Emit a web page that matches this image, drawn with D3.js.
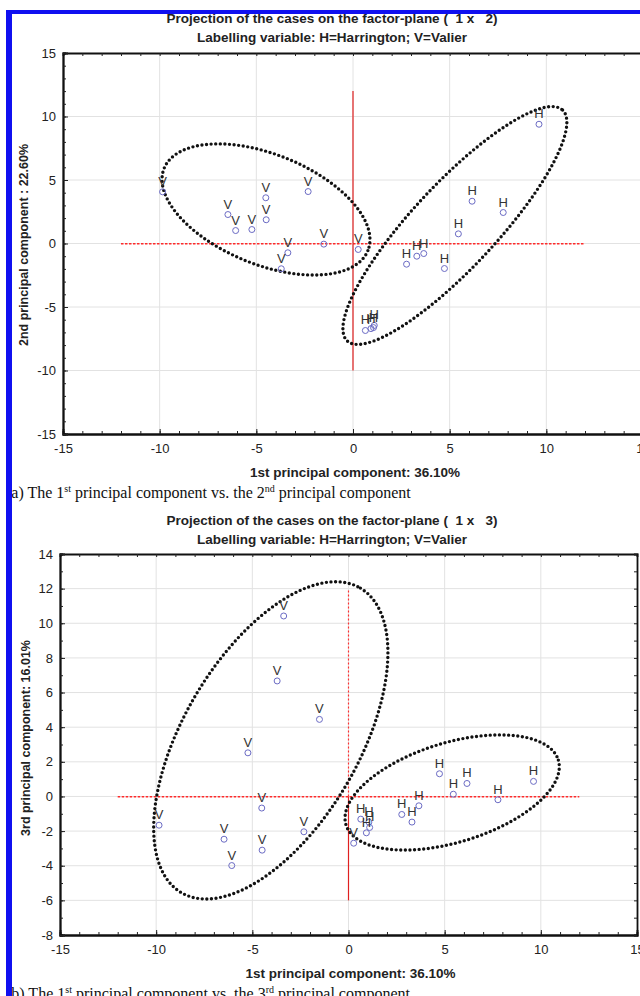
<!DOCTYPE html>
<html lang="en">
<head>
<meta charset="UTF-8">
<script src="https://cdnjs.cloudflare.com/ajax/libs/d3/7.8.5/d3.min.js"></script>
<title>PCA projections</title>
<style>
  body { margin: 0; background: #fff; }
  svg { display: block; }
</style>
</head>
<body>
<script>
// cases: label, 1st / 2nd / 3rd principal component scores
var caseLabels = ["V","V","V","V","V","V","V","V","V","V","V",
                  "H","H","H","H","H","H","H","H","H","H","H","H"];
var pc1 = [-9.85, -6.47, -6.07, -5.23, -4.51, -4.49, -2.32, -3.37, -3.71, -1.51, 0.27,
           9.62, 6.16, 7.77, 5.45, 2.77, 3.30, 3.66, 4.73, 0.64, 1.06, 1.10, 0.93];
var pc2 = [4.07, 2.28, 1.02, 1.10, 3.60, 1.87, 4.09, -0.73, -1.99, -0.05, -0.47,
           9.39, 3.33, 2.44, 0.76, -1.63, -1.00, -0.79, -1.97, -6.85, -6.62, -6.45, -6.70];
var pc3 = [-1.66, -2.47, -3.99, 2.52, -0.67, -3.10, -2.04, 10.42, 6.67, 4.45, -2.70,
           0.87, 0.75, -0.19, 0.13, -1.04, -1.48, -0.54, 1.31, -1.31, -1.48, -1.79, -2.10];

// axis ticks
var xMajor = [-15, -10, -5, 0, 5, 10, 15];
var yMajorA = [-15, -10, -5, 0, 5, 10, 15];
var yMajorB = [-8, -6, -4, -2, 0, 2, 4, 6, 8, 10, 12, 14];

// group ellipses: centre, semi-axis vectors (data units)
var ellA = [{c: [-4.50, 2.68], u: [5.27, -3.24], v: [-1.07, -4.02]},
            {c: [5.27, 1.42], u: [5.57, 9.09], v: [1.59, -2.25]}];
var ellB = [{c: [-4.04, 3.24], u: [4.66, 8.79], v: [3.92, -2.58]},
            {c: [5.39, 0.23], u: [5.52, 1.87], v: [0.75, -2.75]}];

var W = 640, H = 996;
var svg = d3.select("body").append("svg").attr("width", W).attr("height", H)
    .style("font-family", "'Liberation Sans', Arial, sans-serif");

function drawPlot(o) {
    var x = d3.scaleLinear().domain([-15, 15]).range(o.xr);
    var y = d3.scaleLinear().domain(o.yd).range(o.yr);
    var g = svg.append("g");
    var x0 = o.xr[0], x1 = o.xr[1], y0 = o.yr[1], y1 = o.yr[0];

    // grid
    g.selectAll(".gx").data(xMajor.slice(1, -1)).enter().append("line")
        .attr("x1", function (d) { return x(d); }).attr("x2", function (d) { return x(d); })
        .attr("y1", y0).attr("y2", y1).attr("stroke", "#e2e2e2").attr("stroke-width", 1);
    g.selectAll(".gy").data(o.yMajor.slice(1, -1)).enter().append("line")
        .attr("y1", function (d) { return y(d); }).attr("y2", function (d) { return y(d); })
        .attr("x1", x0).attr("x2", x1).attr("stroke", "#e2e2e2").attr("stroke-width", 1);

    // reference lines
    g.append("line").attr("x1", x(-12)).attr("x2", x(12)).attr("y1", y(0) + 0.3).attr("y2", y(0) + 0.3)
        .attr("stroke", "#ff2a2a").attr("stroke-width", 1.4).attr("stroke-dasharray", "2.5 1.5");
    g.append("line").attr("x1", x(0)).attr("x2", x(0)).attr("y1", y(0)).attr("y2", y(o.vLine[0]))
        .attr("stroke", "#e02020").attr("stroke-width", 1.2);
    g.append("line").attr("x1", x(0)).attr("x2", x(0)).attr("y1", y(0)).attr("y2", y(o.vLine[1]))
        .attr("stroke", o.upperDash ? "#ff3030" : "#e02020").attr("stroke-width", 1.2)
        .attr("stroke-dasharray", o.upperDash ? "2 2" : null);

    // axes
    var minorX = d3.range(-15, 16, 1);
    var minorY = d3.range(o.yd[0], o.yd[1] + 1, 1);
    var fmt = function (d) { return String(d); };
    var axes = [
        [d3.axisBottom(x).tickValues(xMajor).tickSize(-5).tickPadding(10).tickFormat(fmt), "translate(0," + y1 + ")"],
        [d3.axisBottom(x).tickValues(minorX).tickSize(-3).tickFormat(""), "translate(0," + y1 + ")"],
        [d3.axisTop(x).tickValues(minorX).tickSize(-3).tickFormat(""), "translate(0," + y0 + ")"],
        [d3.axisLeft(y).tickValues(o.yMajor).tickSize(-5).tickPadding(7).tickFormat(fmt), "translate(" + x0 + ",0)"],
        [d3.axisLeft(y).tickValues(minorY).tickSize(-3).tickFormat(""), "translate(" + x0 + ",0)"],
        [d3.axisRight(y).tickValues(minorY).tickSize(-3).tickFormat(""), "translate(" + x1 + ",0)"]
    ];
    axes.forEach(function (a) {
        var ax = g.append("g").attr("transform", a[1]).call(a[0]);
        ax.select(".domain").attr("stroke", "#111").attr("stroke-width", 1.8);
        ax.selectAll(".tick line").attr("stroke", "#222");
        ax.selectAll("text").attr("font-size", 13).attr("fill", "#222")
            .attr("font-family", "'Liberation Sans', Arial, sans-serif");
    });

    // ellipses
    var ts = d3.range(0, 361, 2).map(function (d) { return d * Math.PI / 180; });
    var line = d3.line();
    o.ell.forEach(function (e) {
        var pts = ts.map(function (t) {
            var px = e.c[0] + Math.cos(t) * e.u[0] + Math.sin(t) * e.v[0];
            var py = e.c[1] + Math.cos(t) * e.u[1] + Math.sin(t) * e.v[1];
            return [x(px), y(py)];
        });
        g.append("path").attr("d", line(pts)).attr("fill", "none")
            .attr("stroke", "#111").attr("stroke-width", 3.4)
            .attr("stroke-linecap", "round").attr("stroke-dasharray", "0 4.6");
    });

    // points
    var pts = caseLabels.map(function (l, i) { return {l: l, x: pc1[i], y: o.ys[i]}; });
    g.selectAll(".pt").data(pts).enter().append("circle")
        .attr("cx", function (d) { return x(d.x); }).attr("cy", function (d) { return y(d.y); })
        .attr("r", 3).attr("fill", "none").attr("stroke", "#6b6bc4").attr("stroke-width", 1);
    g.selectAll(".lb").data(pts).enter().append("text")
        .attr("x", function (d) { return x(d.x); }).attr("y", function (d) { return y(d.y) - 6; })
        .attr("text-anchor", "middle").attr("font-size", 13).attr("fill", "#333")
        .text(function (d) { return d.l; });

    // titles
    var cx = 332;
    g.append("text").attr("x", cx).attr("y", o.titleY).attr("text-anchor", "middle")
        .attr("font-size", 13.5).attr("font-weight", "bold").attr("fill", "#222")
        .attr("xml:space", "preserve").text(o.title);
    g.append("text").attr("x", cx).attr("y", o.titleY + 19).attr("text-anchor", "middle")
        .attr("font-size", 13.5).attr("font-weight", "bold").attr("fill", "#222")
        .text("Labelling variable: H=Harrington; V=Valier");
    g.append("text").attr("x", (x0 + x1) / 2 + 2).attr("y", y1 + 43).attr("text-anchor", "middle")
        .attr("font-size", 13.5).attr("font-weight", "bold").attr("fill", "#222")
        .text("1st principal component: 36.10%");
    g.append("text").attr("transform", "translate(" + o.yTitleX + "," + o.yTitleY + ") rotate(-90)")
        .attr("text-anchor", "middle").attr("font-size", 12.5).attr("font-weight", "bold").attr("fill", "#222")
        .text(o.yTitle);

    // caption
    var cap = g.append("text").attr("x", 6).attr("y", y1 + 64)
        .attr("font-family", "'Liberation Serif', 'Times New Roman', serif")
        .attr("font-size", 16).attr("fill", "#111");
    cap.append("tspan").text(o.cap[0] + " The 1");
    cap.append("tspan").attr("font-size", 10).attr("dy", -6).text("st");
    cap.append("tspan").attr("dy", 6).text(" principal component vs. the " + o.cap[1]);
    cap.append("tspan").attr("font-size", 10).attr("dy", -6).text(o.cap[2]);
    cap.append("tspan").attr("dy", 6).text(" principal component");
}

drawPlot({xr: [63, 643], yd: [-15, 15], yr: [434, 53], yMajor: yMajorA, ys: pc2,
          ell: ellA, vLine: [-10, 12], upperDash: false, titleY: 23,
          title: "Projection of the cases on the factor-plane (  1 x   2)",
          yTitle: "2nd principal component : 22.60%", yTitleX: 28, yTitleY: 245, cap: ["(a)", "2", "nd"]});
drawPlot({xr: [60, 637], yd: [-8, 14], yr: [935, 554], yMajor: yMajorB, ys: pc3,
          ell: ellB, vLine: [-6, 12], upperDash: true, titleY: 525,
          title: "Projection of the cases on the factor-plane (  1 x   3)",
          yTitle: "3rd principal component: 16.01%", yTitleX: 30, yTitleY: 738, cap: ["(b)", "3", "rd"]});

// blue frame
svg.append("rect").attr("x", 6).attr("y", 10).attr("width", W - 6).attr("height", 4).attr("fill", "#1010f0");
svg.append("rect").attr("x", 6).attr("y", 10).attr("width", 6).attr("height", H - 10).attr("fill", "#1010f0");
</script>
</body>
</html>
